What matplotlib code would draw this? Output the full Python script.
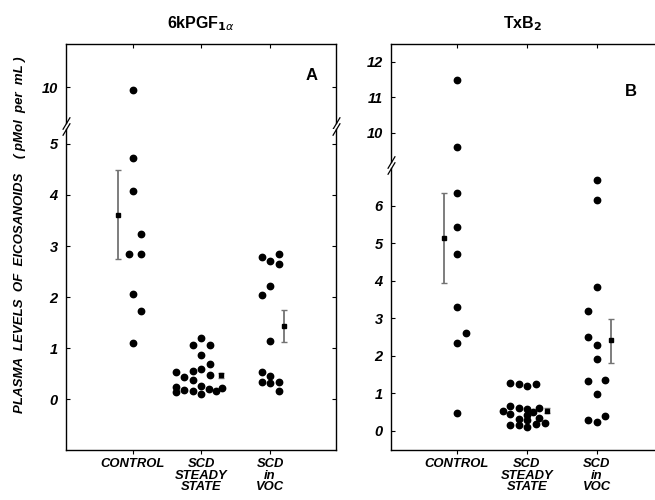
import numpy as np
import matplotlib.pyplot as plt

plt.rcParams['font.family'] = ['Liberation Sans', 'DejaVu Sans']

categories = ['CONTROL', 'SCD\nSTEADY\nSTATE', 'SCD\nin\nVOC']

# panel A : 6kPGF1a  (values, x offsets from category centre)
a_ctrl = [9.94, 4.72, 4.07, 3.23, 2.84, 2.84, 2.06, 1.73, 1.10]
a_ctrl_dx = [0, 0, 0, 0.12, -0.06, 0.12, 0, 0.12, 0]
a_scd = [1.21, 1.06, 1.06, 0.86, 0.70, 0.53, 0.44, 0.55, 0.60, 0.48,
         0.38, 0.24, 0.15, 0.18, 0.17, 0.27, 0.10, 0.20, 0.16, 0.23]
a_scd_dx = [0, -0.125, 0.125, 0, 0.125, -0.375, -0.25, -0.125, 0, 0.125,
            -0.125, -0.375, -0.375, -0.25, -0.125, 0, 0, 0.11, 0.21, 0.30]
a_voc = [2.79, 2.70, 2.84, 2.64, 2.22, 2.04, 1.14, 0.53, 0.45, 0.34, 0.33, 0.34, 0.16]
a_voc_dx = [-0.12, 0, 0.13, 0.13, 0, -0.12, 0, -0.12, 0, -0.12, 0, 0.13, 0.13]
a_mean = [3.61, 0.47, 1.43]
a_err = [[0.87, 0.05, 0.31], [0.88, 0.05, 0.31]]
a_mean_dx = [-0.22, 0.28, 0.21]

# panel B : TxB2
b_ctrl = [11.49, 9.59, 6.34, 5.42, 4.72, 3.29, 2.60, 2.34, 0.48]
b_ctrl_dx = [0, 0, 0, 0, 0, 0, 0.13, 0, 0]
b_scd = [1.28, 1.24, 1.20, 1.24, 0.54, 0.67, 0.45, 0.15, 0.60, 0.31, 0.15,
         0.59, 0.42, 0.28, 0.10, 0.50, 0.62, 0.35, 0.18, 0.20]
b_scd_dx = [-0.24, -0.11, 0, 0.13, -0.34, -0.24, -0.24, -0.24, -0.11, -0.11, -0.11,
            0, 0, 0, 0, 0.09, 0.18, 0.18, 0.13, 0.26]
b_voc = [6.68, 6.14, 3.83, 3.20, 2.50, 2.28, 1.91, 1.32, 1.36, 0.98, 0.28, 0.23, 0.40]
b_voc_dx = [0, 0, 0, -0.12, -0.12, 0, 0, -0.12, 0.12, 0, -0.12, 0, 0.12]
b_mean = [5.13, 0.54, 2.42]
b_err = [[1.18, 0.06, 0.60], [1.20, 0.06, 0.55]]
b_mean_dx = [-0.19, 0.29, 0.20]

W, H = 655, 500
fig = plt.figure(figsize=(W / 100, H / 100), dpi=100)

tickfont = dict(fontsize=10.5, fontweight='bold', fontstyle='italic')


def px(x0, y0, x1, y1):
    return [x0 / W, 1 - y1 / H, (x1 - x0) / W, (y1 - y0) / H]


def panel(box_up, box_lo, xlim, ylim_up, ylim_lo, yt_up, yt_lo,
          groups, means, err, mdx, right_spine, title, letter):
    ax_up = fig.add_axes(box_up)
    ax_lo = fig.add_axes(box_lo)
    for ax in (ax_up, ax_lo):
        for vals, dx, c in groups:
            ax.plot(np.array(dx) + c, vals, 'o', color='black', ms=4.6,
                    mec='black', zorder=3)
        ax.errorbar(np.arange(1, 4) + np.array(mdx), means, yerr=err, fmt='s',
                    color='black', ms=3.2, ecolor='0.45', elinewidth=1.3,
                    capsize=2, capthick=1, zorder=4)
        ax.set_xlim(xlim)
        ax.set_xticks([1, 2, 3])
        for s in ax.spines.values():
            s.set_linewidth(1.0)
        if not right_spine:
            ax.spines['right'].set_visible(False)
        ax.tick_params(axis='y', direction='in', length=3, pad=6,
                       right=right_spine)
    ax_up.set_ylim(ylim_up)
    ax_lo.set_ylim(ylim_lo)
    ax_up.set_yticks(yt_up)
    ax_lo.set_yticks(yt_lo)
    for ax in (ax_up, ax_lo):
        ax.set_yticklabels([str(v) for v in ax.get_yticks()], **tickfont)
    ax_up.spines['bottom'].set_visible(False)
    ax_lo.spines['top'].set_visible(False)
    ax_up.tick_params(axis='x', top=True, bottom=False, labelbottom=False,
                      direction='in', length=3)
    ax_lo.tick_params(axis='x', top=False, bottom=True, direction='out',
                      length=3, pad=3)
    ax_lo.set_xticklabels(categories, fontsize=9.4, fontweight='bold',
                          fontstyle='italic', linespacing=0.92, va='top')
    # break marks
    kw = dict(marker=[(-0.6, -1), (0.6, 1)], markersize=9, linestyle='none',
              color='black', mec='black', mew=0.9, clip_on=False)
    xs = [0, 1] if right_spine else [0]
    ax_up.plot(xs, [0] * len(xs), transform=ax_up.transAxes, **kw)
    ax_lo.plot(xs, [1] * len(xs), transform=ax_lo.transAxes, **kw)
    ax_up.set_title(title, fontsize=11.5, fontweight='bold', pad=11)
    ax_up.text(0.91, 0.6, letter, transform=ax_up.transAxes, fontsize=12,
               fontweight='bold', ha='center', va='center')
    return ax_up, ax_lo


panel(px(66, 44, 336, 123), px(66, 129, 336, 450), (0.03, 3.96),
      (9.30, 10.84), (-0.99, 5.29), [10], [0, 1, 2, 3, 4, 5],
      [(a_ctrl, a_ctrl_dx, 1), (a_scd, a_scd_dx, 2), (a_voc, a_voc_dx, 3)],
      a_mean, a_err, a_mean_dx, True, r'6kPGF$_{\mathbf{1}\alpha}$', 'A')

panel(px(391, 44, 655, 162), px(391, 168, 655, 450), (0.06, 3.83),
      (9.17, 12.5), (-0.51, 7.0), [10, 11, 12], [0, 1, 2, 3, 4, 5, 6],
      [(b_ctrl, b_ctrl_dx, 1), (b_scd, b_scd_dx, 2), (b_voc, b_voc_dx, 3)],
      b_mean, b_err, b_mean_dx, False, r'TxB$_\mathbf{2}$', 'B')

fig.text(20 / W, 1 - 235 / H,
         'PLASMA  LEVELS  OF  EICOSANOIDS    ( pMol  per  mL )',
         rotation=90, ha='center', va='center', fontsize=9.5,
         fontweight='bold', fontstyle='italic')

fig.savefig('out.png', dpi=100)
